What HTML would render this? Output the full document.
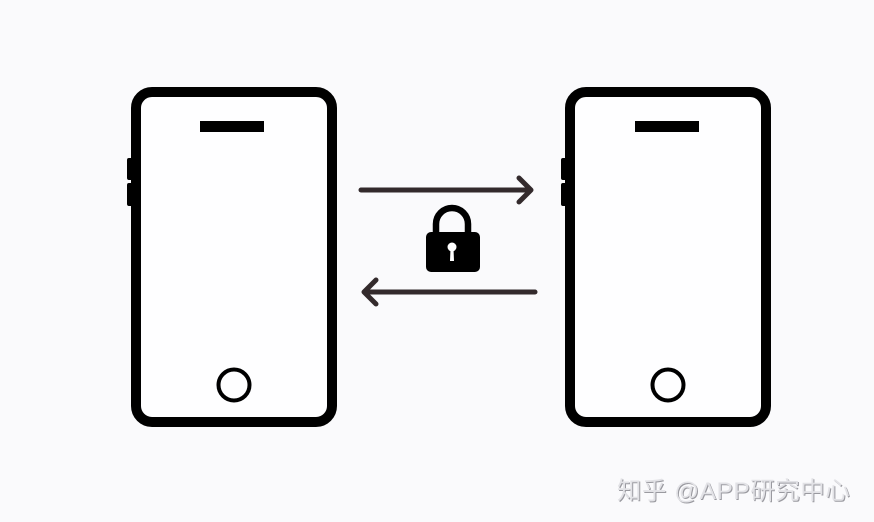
<!DOCTYPE html>
<html><head><meta charset="utf-8"><style>
html,body{margin:0;padding:0;background:#fafafc;}
body{width:874px;height:522px;overflow:hidden;position:relative;}
svg{position:absolute;left:0;top:0;}
.wm{position:absolute;left:617px;top:472px;font-family:"Liberation Sans","Noto Sans CJK SC",sans-serif;font-size:24.5px;color:#e2e2e6;text-shadow:1px 1px 0 #9a9aa0;letter-spacing:0.5px;white-space:nowrap;}
</style></head><body>
<svg width="874" height="522" viewBox="0 0 874 522">
  <g>
    <rect x="127" y="158" width="6" height="22" rx="2" fill="#000"/>
    <rect x="127" y="183" width="6" height="23" rx="2" fill="#000"/>
    <rect x="136" y="92" width="196" height="330" rx="16" fill="#fefeff" stroke="#000" stroke-width="10"/>
    <rect x="200" y="121" width="64" height="11" fill="#000"/>
    <circle cx="234" cy="385" r="15.5" fill="none" stroke="#000" stroke-width="4"/>
  </g>
  <g>
    <rect x="561" y="158" width="6" height="22" rx="2" fill="#000"/>
    <rect x="561" y="183" width="6" height="23" rx="2" fill="#000"/>
    <rect x="570" y="92" width="196" height="330" rx="16" fill="#fefeff" stroke="#000" stroke-width="10"/>
    <rect x="635" y="121" width="64" height="11" fill="#000"/>
    <circle cx="668" cy="385" r="15.5" fill="none" stroke="#000" stroke-width="4"/>
  </g>
  <g stroke="#332a2c" stroke-width="5" fill="none" stroke-linecap="round" stroke-linejoin="round">
    <line x1="361" y1="190" x2="530" y2="190"/>
    <polyline points="519,178 531,190 519,202"/>
    <line x1="365" y1="292" x2="535" y2="292"/>
    <polyline points="376,280 364,292 376,304"/>
  </g>
  <g>
    <path d="M436,234 V224 A16,16 0 0 1 468,224 V234" fill="none" stroke="#000" stroke-width="6.5"/>
    <rect x="426" y="232" width="54" height="40" rx="5" fill="#000"/>
    <circle cx="452" cy="247" r="4.5" fill="#fff"/>
    <path d="M450.5,249 L453.5,249 L454,261 L450,261 Z" fill="#fff"/>
  </g>
</svg>
<div class="wm">知乎 @APP研究中心</div>
</body></html>
